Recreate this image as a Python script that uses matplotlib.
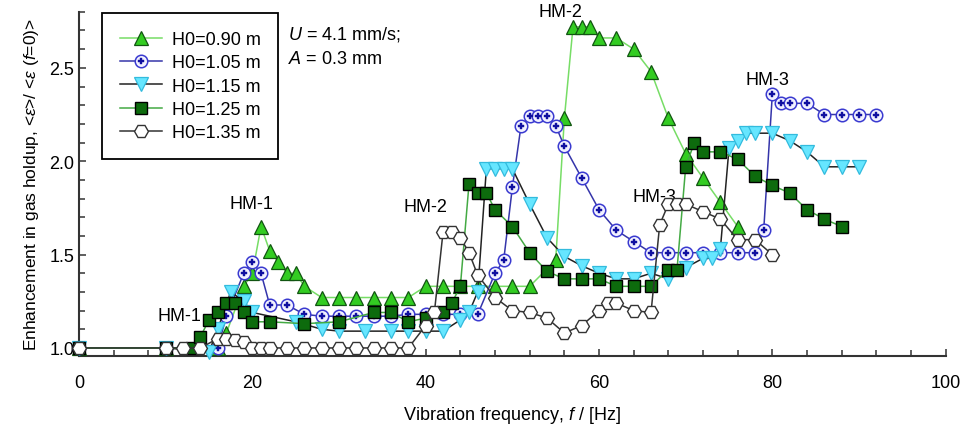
import matplotlib
matplotlib.use('Agg')
import matplotlib.pyplot as plt
from matplotlib.ticker import MultipleLocator

plt.rcParams['font.family'] = ['Liberation Sans', 'DejaVu Sans']
plt.rcParams['mathtext.fontset'] = 'custom'
plt.rcParams['mathtext.rm'] = 'Liberation Sans'
plt.rcParams['mathtext.it'] = 'Liberation Sans:italic'

# H0 = 0.90 m
f_090 = [0, 10, 16, 17, 19, 20, 21, 22, 23, 24, 25, 26, 28, 30, 32, 34, 36, 38, 40, 42, 44, 46, 48, 50, 52,
         55, 56, 57, 58, 59, 60, 62, 64, 66, 68, 70, 72, 74, 76]
e_090 = [1.0, 1.0, 1.0, 1.08, 1.33, 1.40, 1.65, 1.52, 1.46, 1.40, 1.40, 1.33, 1.27, 1.27, 1.27, 1.27, 1.27,
         1.27, 1.33, 1.33, 1.33, 1.33, 1.33, 1.33, 1.33, 1.47, 2.23, 2.72, 2.72, 2.72, 2.66, 2.66, 2.60, 2.48,
         2.23, 2.04, 1.91, 1.78, 1.65]

# H0 = 1.05 m
f_105 = [0, 10, 16, 17, 19, 20, 21, 22, 24, 26, 28, 30, 32, 34, 36, 38, 40, 42, 44, 46, 48, 49, 50, 51, 52,
         53, 54, 55, 56, 58, 60, 62, 64, 66, 68, 70, 72, 74, 76, 78, 79, 80, 81, 82, 84, 86, 88, 90, 92]
e_105 = [1.0, 1.0, 1.0, 1.17, 1.40, 1.46, 1.40, 1.23, 1.23, 1.18, 1.17, 1.17, 1.17, 1.17, 1.17, 1.18, 1.18,
         1.18, 1.18, 1.18, 1.40, 1.47, 1.86, 2.19, 2.24, 2.24, 2.24, 2.19, 2.08, 1.91, 1.74, 1.63, 1.57, 1.51,
         1.51, 1.51, 1.51, 1.51, 1.51, 1.51, 1.63, 2.36, 2.31, 2.31, 2.31, 2.25, 2.25, 2.25, 2.25]

# H0 = 1.15 m
f_115 = [0, 10, 15, 16, 17.5, 19, 20, 25, 28, 30, 33, 36, 38, 40, 42, 44, 45, 46, 47, 48, 49, 50, 52, 54, 56,
         58, 60, 62, 64, 66, 68, 70, 72, 73, 74, 75, 76, 77, 78, 80, 82, 84, 86, 88, 90]
e_115 = [1.0, 1.0, 0.98, 1.10, 1.30, 1.25, 1.19, 1.14, 1.10, 1.09, 1.09, 1.09, 1.09, 1.09, 1.09, 1.15, 1.19,
         1.30, 1.96, 1.96, 1.96, 1.96, 1.77, 1.59, 1.49, 1.44, 1.40, 1.37, 1.37, 1.40, 1.37, 1.43, 1.48, 1.48,
         1.53, 2.07, 2.11, 2.15, 2.15, 2.15, 2.11, 2.05, 1.97, 1.97, 1.97]

# H0 = 1.25 m
f_125 = [0, 10, 13, 14, 15, 16, 17, 18, 19, 20, 22, 26, 30, 34, 36, 38, 40, 42, 43, 44, 45, 46, 47, 48, 50,
         52, 54, 56, 58, 60, 62, 64, 66, 68, 69, 70, 71, 72, 74, 76, 78, 80, 82, 84, 86, 88]
e_125 = [1.0, 1.0, 1.0, 1.06, 1.15, 1.19, 1.24, 1.24, 1.19, 1.14, 1.14, 1.13, 1.14, 1.19, 1.19, 1.14, 1.16,
         1.19, 1.24, 1.33, 1.88, 1.83, 1.83, 1.74, 1.65, 1.51, 1.41, 1.37, 1.37, 1.37, 1.33, 1.33, 1.33, 1.42,
         1.42, 1.97, 2.10, 2.05, 2.05, 2.01, 1.92, 1.87, 1.83, 1.74, 1.69, 1.65]

# H0 = 1.35 m
f_135 = [0, 10, 12, 14, 16, 17, 18, 19, 20, 21, 22, 24, 26, 28, 30, 32, 34, 36, 38, 40, 41, 42, 43, 44, 45,
         46, 48, 50, 52, 54, 56, 58, 60, 61, 62, 64, 66, 67, 68, 69, 70, 72, 74, 76, 78, 80]
e_135 = [1.0, 1.0, 1.0, 1.0, 1.05, 1.05, 1.04, 1.03, 1.0, 1.0, 1.0, 1.0, 1.0, 1.0, 1.0, 1.0, 1.0, 1.0, 1.0,
         1.12, 1.19, 1.62, 1.62, 1.59, 1.51, 1.39, 1.27, 1.20, 1.19, 1.16, 1.08, 1.12, 1.20, 1.24, 1.24, 1.20,
         1.19, 1.66, 1.77, 1.77, 1.77, 1.73, 1.69, 1.58, 1.58, 1.50]

labels = ['H0=0.90 m', 'H0=1.05 m', 'H0=1.15 m', 'H0=1.25 m', 'H0=1.35 m']

# annotations (text, f, value)
hm_text = ['HM-1', 'HM-1', 'HM-2', 'HM-2', 'HM-3', 'HM-3']
hm_f = [19.9, 11.6, 40.0, 55.6, 66.4, 79.4]
hm_e = [1.775, 1.175, 1.755, 2.80, 1.81, 2.44]

fig = plt.figure(figsize=(9.64, 4.27), dpi=100)
ax = fig.add_axes([0.082, 0.164, 0.899, 0.806])

l1, = ax.plot(f_090, e_090, color='#77dd66', lw=1.1, marker='^', ms=9.5, mfc='#33cc22',
              mec='#115511', mew=0.9, clip_on=False, zorder=3)
l2a, = ax.plot(f_105, e_105, color='#3535aa', lw=1.1, marker='o', ms=9, mfc='#f2f2ff',
               mec='#3a3ad0', mew=1.1, clip_on=False, zorder=3)
l2b, = ax.plot(f_105, e_105, ls='none', marker='P', ms=4.5, mfc='#1010a0', mec='#1010a0',
               mew=0.3, clip_on=False, zorder=3)
l3, = ax.plot(f_115, e_115, color='#222222', lw=1.1, marker='v', ms=9.5, mfc='#66e6ff',
              mec='#33bbdd', mew=0.9, clip_on=False, zorder=3)
l4, = ax.plot(f_125, e_125, color='#44aa44', lw=1.1, marker='s', ms=8.5, mfc='#0d6b0d',
              mec='#000000', mew=1.0, clip_on=False, zorder=3)
l5, = ax.plot(f_135, e_135, color='#333333', lw=1.1, marker='H', ms=10, mfc='white',
              mec='#333333', mew=1.0, clip_on=False, zorder=3)

for t, x, y in zip(hm_text, hm_f, hm_e):
    ax.text(x, y, t, ha='center', va='center', fontsize=13, zorder=2)

ax.text(0.241, 0.936, r'$U$ = 4.1 mm/s;', transform=ax.transAxes, fontsize=13, va='center')
ax.text(0.241, 0.863, r'$A$ = 0.3 mm', transform=ax.transAxes, fontsize=13, va='center')

leg = ax.legend([l1, (l2a, l2b), l3, l4, l5], labels, loc='upper left',
                bbox_to_anchor=(0.0265, 0.997), borderaxespad=0, fontsize=13, numpoints=1,
                handlelength=2.3, handletextpad=0.55, labelspacing=0.35, borderpad=1.0,
                fancybox=False, edgecolor='black', framealpha=1)
leg.get_frame().set_linewidth(1.3)

ax.set_xlim(0, 100)
ax.set_ylim(0.957, 2.8)
ax.xaxis.set_major_locator(MultipleLocator(20))
ax.xaxis.set_minor_locator(MultipleLocator(4))
ax.yaxis.set_major_locator(MultipleLocator(0.5))
ax.yaxis.set_minor_locator(MultipleLocator(0.1))
ax.yaxis.set_major_formatter(matplotlib.ticker.FormatStrFormatter('%.1f'))
ax.tick_params(which='both', direction='in', width=1.1, labelsize=13, color='#333333')
ax.tick_params(which='major', length=5)
ax.tick_params(which='minor', length=4)
ax.tick_params(axis='x', pad=13)

ax.spines['top'].set_visible(False)
ax.spines['right'].set_visible(False)
for s in ['left', 'bottom']:
    ax.spines[s].set_linewidth(1.5)
    ax.spines[s].set_color('#333333')

ax.set_xlabel(r'Vibration frequency, $f$ / [Hz]', fontsize=13, labelpad=9)
ax.set_ylabel(r'Enhancement in gas holdup, <$\varepsilon$>/ <$\varepsilon$ ($f$=0)>', fontsize=12.5,
              labelpad=6)

fig.savefig('out.png', dpi=100)
